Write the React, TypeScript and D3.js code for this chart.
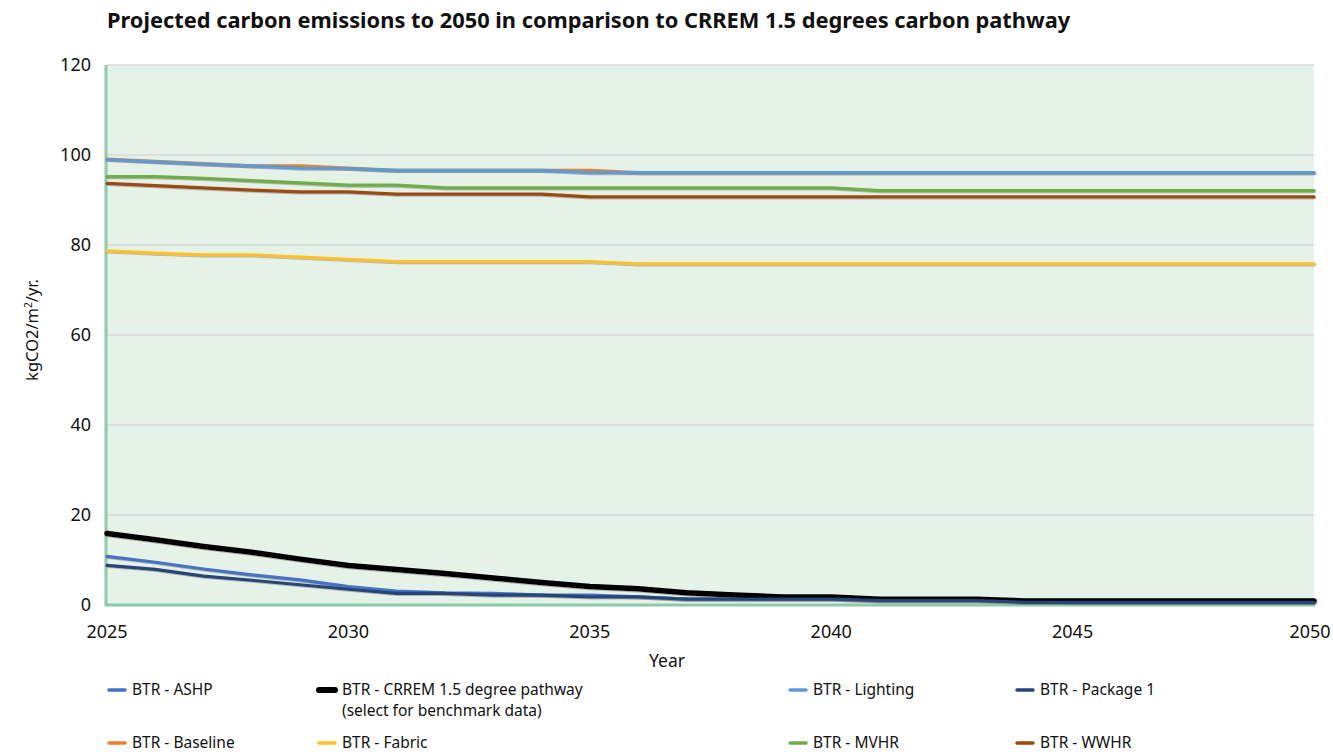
import * as d3 from "d3";

const years = d3.range(2025, 2051);

const ashp = [10.8, 9.5, 8.0, 6.7, 5.6, 4.1, 3.1, 2.7, 2.6, 2.2, 2.2, 1.8, 1.3, 1.3, 1.3, 1.3, 0.9, 0.9, 0.9, 0.9, 0.5, 0.5, 0.5, 0.5, 0.5, 0.5];
const baseline = [99.1, 98.6, 98.1, 97.6, 97.6, 97.1, 96.6, 96.6, 96.6, 96.6, 96.6, 96.1, 96.1, 96.1, 96.1, 96.1, 96.1, 96.1, 96.1, 96.1, 96.1, 96.1, 96.1, 96.1, 96.1, 96.1];
const crrem = [15.9, 14.5, 13.0, 11.7, 10.2, 8.8, 7.9, 7.0, 6.0, 5.0, 4.1, 3.6, 2.7, 2.2, 1.8, 1.8, 1.3, 1.3, 1.3, 0.9, 0.9, 0.9, 0.9, 0.9, 0.9, 0.9];
const fabric = [78.7, 78.2, 77.8, 77.8, 77.3, 76.8, 76.3, 76.3, 76.3, 76.3, 76.3, 75.8, 75.8, 75.8, 75.8, 75.8, 75.8, 75.8, 75.8, 75.8, 75.8, 75.8, 75.8, 75.8, 75.8, 75.8];
const lighting = [99.0, 98.5, 98.0, 97.6, 97.1, 97.0, 96.6, 96.6, 96.6, 96.6, 96.1, 96.1, 96.1, 96.1, 96.1, 96.1, 96.1, 96.1, 96.1, 96.1, 96.1, 96.1, 96.1, 96.1, 96.1, 96.1];
const mvhr = [95.2, 95.2, 94.8, 94.3, 93.8, 93.3, 93.3, 92.7, 92.7, 92.7, 92.7, 92.7, 92.7, 92.7, 92.7, 92.7, 92.1, 92.1, 92.1, 92.1, 92.1, 92.1, 92.1, 92.1, 92.1, 92.1];
const package1 = [8.8, 7.9, 6.4, 5.5, 4.5, 3.5, 2.6, 2.6, 2.2, 2.2, 1.8, 1.8, 1.3, 1.3, 1.3, 1.3, 1.0, 1.0, 1.0, 0.6, 0.6, 0.6, 0.6, 0.6, 0.6, 0.6];
const wwhr = [93.7, 93.2, 92.7, 92.2, 91.8, 91.8, 91.3, 91.3, 91.3, 91.3, 90.7, 90.7, 90.7, 90.7, 90.7, 90.7, 90.7, 90.7, 90.7, 90.7, 90.7, 90.7, 90.7, 90.7, 90.7, 90.7];

const seriesNames = ["BTR - ASHP", "BTR - Baseline", "BTR - CRREM 1.5 degree pathway", "BTR - Fabric", "BTR - Lighting", "BTR - MVHR", "BTR - Package 1", "BTR - WWHR"];
const seriesValues = [ashp, baseline, crrem, fabric, lighting, mvhr, package1, wwhr];
const seriesColours = ["#4472c4", "#ed7d31", "#000000", "#ffc02a", "#5b9bd5", "#70ad47", "#264478", "#9e480e"];

const yTicks = [0, 20, 40, 60, 80, 100, 120];
const xTicks = [2025, 2030, 2035, 2040, 2045, 2050];

const FONT = "'Noto Sans', sans-serif";

const width = 1333;
const height = 755;
const left = 107;
const right = 1314;
const top = 65;
const bottom = 605;

export default function App() {
  const x = d3.scaleLinear().domain([2025, 2050]).range([left, right]);
  const y = d3.scaleLinear().domain([0, 120]).range([bottom, top]);

  const line = d3.line<number>()
    .x((_, i) => x(years[i]))
    .y(d => y(d));

  // legend is column-major, two rows
  const legendCols = [107, 317, 788, 1015];
  const legendRows = [690, 743];

  return (
    <svg width={width} height={height} style={{ position: "absolute", left: 0, top: 0, background: "#fff" }}>
      <defs>
        <filter id="shadow" x="-5%" y="-50%" width="110%" height="200%">
          <feDropShadow dx={0.6} dy={1} stdDeviation={0.5} floodColor="#777" floodOpacity={0.5} />
        </filter>
      </defs>
      <text x={107} y={28} fontFamily={FONT} fontWeight="bold" fontSize={21.8} fill="#111">
        Projected carbon emissions to 2050 in comparison to CRREM 1.5 degrees carbon pathway
      </text>

      <rect x={left} y={top} width={right - left} height={bottom - top} fill="#e5f2e8" />

      {yTicks.filter(t => t > 0).map(t => (
        <line key={t} x1={left} x2={right} y1={y(t)} y2={y(t)} stroke="#d9d9d9" strokeWidth={1.5} />
      ))}

      {yTicks.map(t => (
        <text key={t} x={91} y={y(t)} dy="0.35em" textAnchor="end" fontFamily={FONT} fontSize={18} fill="#111">{t}</text>
      ))}
      {xTicks.map(t => (
        <text key={t} x={Math.min(x(t), width - 23)} y={632} dy="0.35em" textAnchor="middle" fontFamily={FONT} fontSize={18} fill="#111">{t}</text>
      ))}

      <text x={667} y={661} dy="0.35em" textAnchor="middle" fontFamily={FONT} fontSize={17.5} fill="#111">Year</text>
      <text transform={`translate(38,330) rotate(-90)`} textAnchor="middle" fontFamily={FONT} fontSize={16.5} fill="#111">
        kgCO2/m<tspan dy={-6} fontSize={10}>2</tspan><tspan dy={6}>/yr.</tspan>
      </text>

      <line x1={left} x2={right + 1} y1={bottom} y2={bottom} stroke="#8ccaa8" strokeWidth={3} />
      <line x1={left - 1} x2={left - 1} y1={top} y2={bottom + 1.5} stroke="#8ccaa8" strokeWidth={3} />

      {seriesValues.map((vals, i) => (
        <path key={seriesNames[i]} d={line(vals) ?? ""} fill="none" stroke={seriesColours[i]}
          strokeWidth={i === 2 ? 5.5 : 3.2} strokeLinejoin="round" strokeLinecap="round" filter="url(#shadow)" />
      ))}

      {seriesNames.map((name, i) => {
        const col = Math.floor(i / 2);
        const row = i % 2;
        const lx = legendCols[col];
        const ly = legendRows[row];
        const isCrrem = i === 2;
        return (
          <g key={name}>
            <line x1={lx + 2} x2={lx + 18} y1={ly} y2={ly} stroke={seriesColours[i]}
              strokeWidth={isCrrem ? 6 : 3.5} strokeLinecap="round" />
            <text x={lx + 25} y={ly} dy="0.35em" fontFamily={FONT} fontSize={15.5} fill="#111">
              {isCrrem ? "BTR - CRREM 1.5 degree pathway" : name}
            </text>
            {isCrrem && (
              <text x={lx + 25} y={ly + 21} dy="0.35em" fontFamily={FONT} fontSize={15.5} fill="#111">
                (select for benchmark data)
              </text>
            )}
          </g>
        );
      })}
    </svg>
  );
}
